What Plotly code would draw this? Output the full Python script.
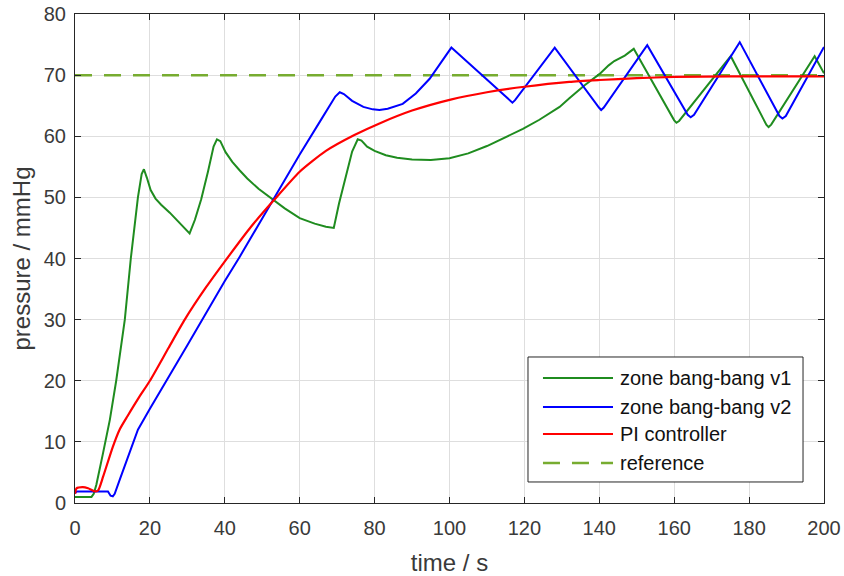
import plotly.graph_objects as go

# ---- measured pressure traces (time in s, pressure in mmHg) ----
t_v1 = [0, 4.4, 5.0, 5.7, 7.5, 9.3, 11.0, 12.2, 13.3, 14.9, 16.8, 17.8, 18.4, 19.2, 20.2,
        21.5, 23.0, 25.3, 28.0, 30.6, 32.0, 33.7, 35.5, 37.0, 37.9, 38.8, 40.2, 42.0, 44.0,
        46.0, 49.0, 52.8, 56.0, 60.0, 64.0, 67.0, 69.1, 70.5, 72.0, 74.0, 75.5, 76.5, 78.0,
        80.0, 83.0, 86.0, 90.0, 95.0, 100.0, 105.0, 110.0, 115.0, 119.6, 124.0, 129.4,
        132.0, 136.0, 140.1, 142.5, 144.0, 146.8, 149.2, 160.0, 160.6, 161.3, 175.1,
        184.6, 185.2, 185.9, 197.5, 200.0]
p_v1 = [1.0, 1.0, 1.5, 3.0, 8.2, 13.6, 20.0, 25.0, 30.0, 40.0, 50.0, 53.8, 54.6, 53.2, 51.2,
        49.8, 48.8, 47.5, 45.8, 44.1, 46.3, 49.7, 54.2, 58.3, 59.5, 59.2, 57.4, 55.8, 54.4,
        53.1, 51.4, 49.7, 48.2, 46.6, 45.7, 45.2, 45.0, 49.0, 52.8, 57.5, 59.5, 59.3, 58.3,
        57.6, 56.9, 56.5, 56.2, 56.1, 56.4, 57.2, 58.4, 59.8, 61.2, 62.7, 64.8,
        66.2, 68.3, 70.2, 71.6, 72.3, 73.2, 74.3, 62.6, 62.2, 62.5, 73.1,
        61.9, 61.5, 61.9, 73.1, 70.3]

t_v2 = [0, 0.5, 8.8, 9.5, 10.1, 10.6, 12.0, 13.7, 15.1, 16.8, 20.0, 24.5, 30.0, 40.0, 44.0,
        52.8, 60.0, 65.8, 69.5, 70.7, 71.8, 74.0, 77.0, 79.5, 81.3, 83.5, 87.5, 91.0, 94.7,
        100.5, 116.2, 116.8, 117.5, 128.1, 139.9, 140.5, 141.2, 152.8, 163.6, 164.4, 165.3,
        177.5, 188.1, 188.9, 189.8, 200.0]
p_v2 = [1.6, 1.9, 1.9, 1.2, 1.1, 1.5, 3.9, 6.8, 9.4, 12.0, 15.4, 20.0, 25.8, 36.3, 40.3,
        49.5, 57.0, 62.8, 66.5, 67.2, 66.9, 65.8, 64.8, 64.4, 64.3, 64.5, 65.3, 67.0, 69.4,
        74.5, 65.9, 65.5, 65.9, 74.5, 64.7, 64.3, 64.7, 74.9, 63.5, 63.1, 63.5,
        75.4, 63.3, 62.9, 63.3, 74.6]

t_pi = [0, 0.4, 2.1, 3.5, 5.3, 6.2, 7.5, 10.1, 11.9, 14.0, 17.0, 20.0, 25.0, 29.3, 35.0,
        41.3, 47.0, 52.9, 60.0, 67.0, 74.6, 81.3, 90.0, 100.3, 110.0, 120.0, 132.0, 140.0,
        150.0, 160.0, 175.0, 200.0]
p_pi = [1.5, 2.4, 2.6, 2.4, 1.9, 2.1, 4.3, 9.2, 12.0, 14.2, 17.2, 20.0, 25.4, 30.0, 35.3,
        40.6, 45.2, 49.4, 54.2, 57.6, 60.2, 62.1, 64.2, 66.0, 67.2, 68.1, 68.9, 69.2,
        69.5, 69.7, 69.8, 69.8]

t_ref = [0, 200]
p_ref = [70, 70]

x_ticks = [0, 20, 40, 60, 80, 100, 120, 140, 160, 180, 200]
y_ticks = [0, 10, 20, 30, 40, 50, 60, 70, 80]

# name, time, pressure, colour, dash, width, line shape
series = [
    ("zone bang-bang v1", t_v1, p_v1, "#1f8c1f", "solid", 2, "linear"),
    ("zone bang-bang v2", t_v2, p_v2, "#0000ff", "solid", 2, "linear"),
    ("PI controller", t_pi, p_pi, "#ff0000", "solid", 2.2, "spline"),
    ("reference", t_ref, p_ref, "#77ac30", "17px,12px", 2.5, "linear"),
]

FONT = "Arial, Liberation Sans, Helvetica, sans-serif"
AXIS_COLOR = "#262626"
TEXT_COLOR = "#3a3a3a"

fig = go.Figure()
# reference drawn first so the data curves sit on top of it
for name, t, p, color, dash, width, shape in [series[3]] + series[:3]:
    line = dict(color=color, width=width, dash=dash, shape=shape)
    if shape == "spline":
        line["smoothing"] = 0.6
    fig.add_trace(go.Scatter(x=t, y=p, mode="lines", name=name, showlegend=False, line=line))

axis_common = dict(
    showline=True, linecolor=AXIS_COLOR, linewidth=1, mirror="allticks",
    ticks="inside", ticklen=6, tickcolor=AXIS_COLOR, tickwidth=1,
    showgrid=True, gridcolor="#dedede", gridwidth=1, zeroline=False,
    automargin=False,
    tickfont=dict(family=FONT, size=20, color=TEXT_COLOR),
)

fig.update_xaxes(range=[0, 200], tickvals=x_ticks, ticktext=[str(v) for v in x_ticks],
                 ticklabelstandoff=7,
                 title=dict(text="time / s", font=dict(family=FONT, size=24, color=TEXT_COLOR),
                            standoff=17),
                 **axis_common)
fig.update_yaxes(range=[0, 80], tickvals=y_ticks, ticktext=[str(v) for v in y_ticks],
                 ticklabelstandoff=4,
                 title=dict(text="pressure / mmHg", font=dict(family=FONT, size=24, color=TEXT_COLOR),
                            standoff=6),
                 **axis_common)

# legend box drawn in paper coordinates (long line samples)
lx0, lx1, ly0, ly1 = 0.6048, 0.9720, 0.043, 0.2986
shapes = [dict(type="rect", xref="paper", yref="paper", x0=lx0, x1=lx1, y0=ly0, y1=ly1,
               line=dict(color=AXIS_COLOR, width=1), fillcolor="white", layer="above")]
annotations = []
row_y = [0.2556, 0.1963, 0.1411, 0.0818]
for (name, t, p, color, dash, width, shape), yy in zip(series, row_y):
    shapes.append(dict(type="line", xref="paper", yref="paper", x0=0.6248, x1=0.7183,
                       y0=yy, y1=yy, layer="above",
                       line=dict(color=color, width=min(width, 2.5), dash=dash)))
    annotations.append(dict(xref="paper", yref="paper", x=0.7250, y=yy, text=name,
                            showarrow=False, xanchor="left", yanchor="middle",
                            font=dict(family=FONT, size=20, color="#111111")))

fig.update_layout(
    width=844, height=576,
    margin=dict(l=75, r=20, t=14, b=73),
    paper_bgcolor="white", plot_bgcolor="white",
    shapes=shapes, annotations=annotations,
    showlegend=False,
)

fig.write_html("out.html")
